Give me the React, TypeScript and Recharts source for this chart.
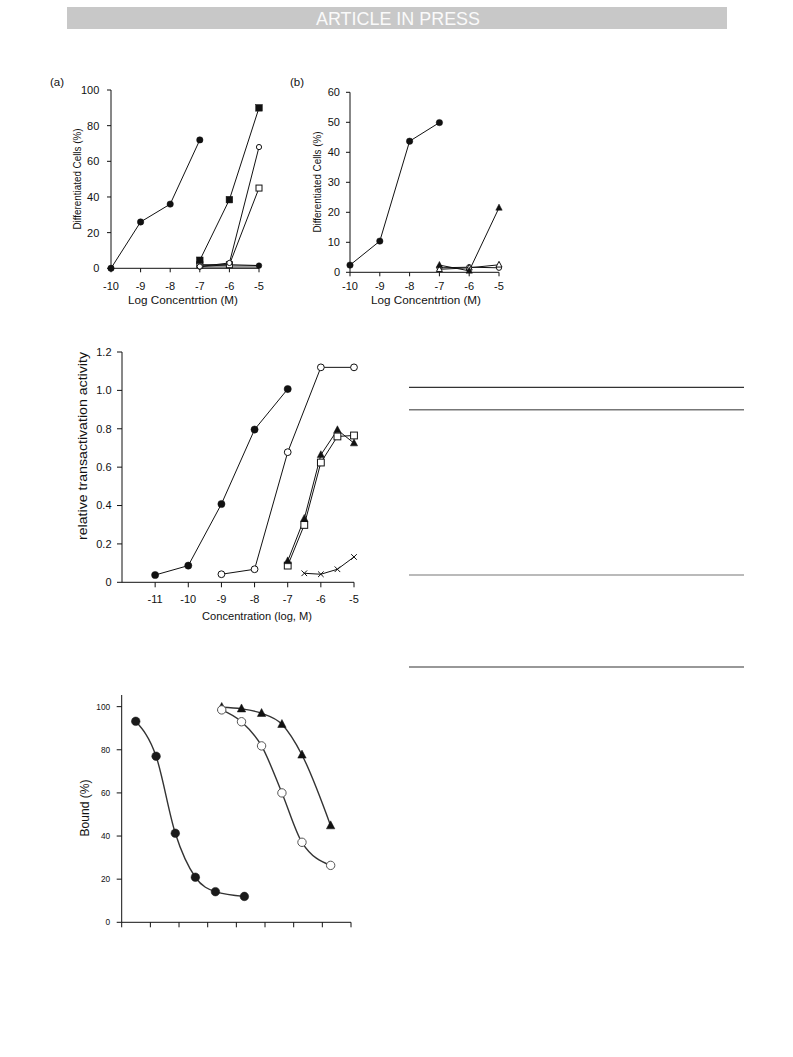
import React from 'react';
import { LineChart, Line, XAxis, YAxis } from 'recharts';

const FONT = '"Liberation Sans", Arial, Helvetica, sans-serif';
const INK = '#111';

// ---------- Panel (a) ----------
const aTicksX = [-10, -9, -8, -7, -6, -5];
const aTicksY = [0, 20, 40, 60, 80, 100];
const aX1 = [-10, -9, -8, -7];
const aFilledCircle = [0, 26, 36, 72];
const aX2 = [-7, -6, -5];
const aFilledSquare = [4.5, 38.5, 90];
const aOpenCircle = [1, 3, 68];
const aOpenSquare = [2, 2, 45];
const aFilledTriangle = [1, 2, 1.5];
const aGrey = [1, 1, 1];

// ---------- Panel (b) ----------
const bTicksX = [-10, -9, -8, -7, -6, -5];
const bTicksY = [0, 10, 20, 30, 40, 50, 60];
const bX1 = [-10, -9, -8, -7];
const bFilledCircle = [2.4, 10.4, 43.7, 49.9];
const bX2 = [-7, -6, -5];
const bFilledTriangle = [2.4, 0.5, 21.5];
const bOpenTriangle = [1, 1.5, 2.5];
const bOpenCircle = [1.5, 1.7, 1.5];

// ---------- Transactivation ----------
const cTicksX = [-11, -10, -9, -8, -7, -6, -5];
const cTicksY = [0, 0.2, 0.4, 0.6, 0.8, 1.0, 1.2];
const cX1 = [-11, -10, -9, -8, -7];
const cFilledCircle = [0.038, 0.087, 0.408, 0.796, 1.007];
const cX2 = [-9, -8, -7, -6, -5];
const cOpenCircle = [0.042, 0.068, 0.678, 1.12, 1.12];
const cX3 = [-7, -6.5, -6, -5.5, -5];
const cFilledTriangle = [0.111, 0.332, 0.664, 0.794, 0.725];
const cOpenSquare = [0.087, 0.299, 0.624, 0.76, 0.765];
const cX4 = [-6.5, -6, -5.5, -5];
const cCross = [0.047, 0.042, 0.068, 0.132];

// ---------- Binding ----------
const dTicksX = [0, 1, 2, 3, 4, 5, 6, 7, 8];
const dTicksY = [0, 20, 40, 60, 80, 100];
const dX1 = [0.49, 1.2, 1.87, 2.57, 3.27, 4.28];
const dFilledCircle = [93.2, 77, 41.3, 20.9, 14.2, 12];
const dX2 = [3.49, 4.18, 4.88, 5.59, 6.29, 7.29];
const dOpenCircle = [98.5, 93, 81.8, 60, 37.1, 26.4];
const dFilledTriangle = [99.7, 99, 96.9, 91.8, 77.6, 44.8];

const zip = (xs: number[], ys: number[]) => xs.map((x, i) => ({ x, y: ys[i] }));

type Kind = 'fc' | 'oc' | 'fs' | 'os' | 'ft' | 'ot' | 'x';

function Marker({ cx, cy, kind, s, color }: { cx: number; cy: number; kind: Kind; s: number; color: string }) {
  if (cx == null || cy == null || isNaN(cx) || isNaN(cy)) return null;
  switch (kind) {
    case 'fc':
      return <circle cx={cx} cy={cy} r={s} fill={color} stroke={color} strokeWidth={0.5} />;
    case 'oc':
      return <circle cx={cx} cy={cy} r={s} fill="#fff" stroke={color} strokeWidth={1} />;
    case 'fs':
      return <rect x={cx - s} y={cy - s} width={2 * s} height={2 * s} fill={color} stroke={color} strokeWidth={0.5} />;
    case 'os':
      return <rect x={cx - s} y={cy - s} width={2 * s} height={2 * s} fill="#fff" stroke={color} strokeWidth={1} />;
    case 'ft':
    case 'ot': {
      const pts = `${cx},${cy - s * 1.15} ${cx - s},${cy + s * 0.75} ${cx + s},${cy + s * 0.75}`;
      return <polygon points={pts} fill={kind === 'ft' ? color : '#fff'} stroke={color} strokeWidth={kind === 'ft' ? 0.5 : 1} />;
    }
    case 'x':
      return (
        <g stroke={color} strokeWidth={1}>
          <line x1={cx - s} y1={cy - s} x2={cx + s} y2={cy + s} />
          <line x1={cx - s} y1={cy + s} x2={cx + s} y2={cy - s} />
        </g>
      );
    default:
      return null;
  }
}

const dot = (kind: Kind, s: number, color: string = INK) => (p: any) => (
  <Marker key={`${kind}-${p.index}-${p.cx}`} cx={p.cx} cy={p.cy} kind={kind} s={s} color={color} />
);

const tickStyle = (size: number) => ({ fontSize: size, fill: INK, fontFamily: FONT });

function PanelA() {
  return (
    <LineChart width={240} height={230} margin={{ top: 10, right: 21, left: 0, bottom: 0 }}>
      <XAxis type="number" dataKey="x" domain={[-10, -5]} ticks={aTicksX} interval={0}
        stroke={INK} tickSize={4} tickMargin={9.5} height={41.7} tick={tickStyle(11)} />
      <YAxis type="number" domain={[0, 100]} ticks={aTicksY} interval={0}
        stroke={INK} tickSize={4} tickMargin={7.7} width={71} tick={tickStyle(11)} />
      <Line data={zip(aX2, aGrey)} dataKey="y" stroke="#999" strokeWidth={3.5} dot={false} activeDot={false} isAnimationActive={false} />
      <Line data={zip(aX1, aFilledCircle)} dataKey="y" stroke={INK} strokeWidth={1} dot={dot('fc', 3.2)} activeDot={false} isAnimationActive={false} />
      <Line data={zip(aX2, aFilledTriangle)} dataKey="y" stroke={INK} strokeWidth={1} dot={dot('fc', 2.8)} activeDot={false} isAnimationActive={false} />
      <Line data={zip(aX2, aOpenSquare)} dataKey="y" stroke={INK} strokeWidth={1} dot={dot('os', 3)} activeDot={false} isAnimationActive={false} />
      <Line data={zip(aX2, aOpenCircle)} dataKey="y" stroke={INK} strokeWidth={1} dot={dot('oc', 2.6)} activeDot={false} isAnimationActive={false} />
      <Line data={zip(aX2, aFilledSquare)} dataKey="y" stroke={INK} strokeWidth={1} dot={dot('fs', 3.3)} activeDot={false} isAnimationActive={false} />
    </LineChart>
  );
}

function PanelB() {
  return (
    <LineChart width={240} height={230} margin={{ top: 12.3, right: 21, left: 0, bottom: 0 }}>
      <XAxis type="number" dataKey="x" domain={[-10, -5]} ticks={bTicksX} interval={0}
        stroke={INK} tickSize={4} tickMargin={5.5} height={37.7} tick={tickStyle(11)} />
      <YAxis type="number" domain={[0, 60]} ticks={bTicksY} interval={0}
        stroke={INK} tickSize={4} tickMargin={6} width={70} tick={tickStyle(11)} />
      <Line data={zip(bX2, bOpenCircle)} dataKey="y" stroke={INK} strokeWidth={1} dot={dot('oc', 2.6)} activeDot={false} isAnimationActive={false} />
      <Line data={zip(bX2, bOpenTriangle)} dataKey="y" stroke={INK} strokeWidth={1} dot={dot('ot', 3)} activeDot={false} isAnimationActive={false} />
      <Line data={zip(bX2, bFilledTriangle)} dataKey="y" stroke={INK} strokeWidth={1} dot={dot('ft', 3.2)} activeDot={false} isAnimationActive={false} />
      <Line data={zip(bX1, bFilledCircle)} dataKey="y" stroke={INK} strokeWidth={1} dot={dot('fc', 3.2)} activeDot={false} isAnimationActive={false} />
    </LineChart>
  );
}

function PanelC() {
  return (
    <LineChart width={340} height={290} margin={{ top: 12, right: 26, left: 0, bottom: 0 }}>
      <XAxis type="number" dataKey="x" domain={[-12, -5]} ticks={cTicksX} interval={0}
        stroke={INK} tickSize={5} tickMargin={8} height={47.7} tick={tickStyle(11)} />
      <YAxis type="number" domain={[0, 1.2]} ticks={cTicksY} interval={0}
        tickFormatter={(v: number) => (v === 0 ? '0' : v.toFixed(1))}
        stroke={INK} tickSize={5} tickMargin={5.5} width={82} tick={tickStyle(11)} />
      <Line data={zip(cX4, cCross)} dataKey="y" stroke={INK} strokeWidth={1} dot={dot('x', 2.8)} activeDot={false} isAnimationActive={false} />
      <Line data={zip(cX3, cOpenSquare)} dataKey="y" stroke={INK} strokeWidth={1} dot={dot('os', 3.4)} activeDot={false} isAnimationActive={false} />
      <Line data={zip(cX3, cFilledTriangle)} dataKey="y" stroke={INK} strokeWidth={1} dot={dot('ft', 3.6)} activeDot={false} isAnimationActive={false} />
      <Line data={zip(cX2, cOpenCircle)} dataKey="y" stroke={INK} strokeWidth={1} dot={dot('oc', 3.4)} activeDot={false} isAnimationActive={false} />
      <Line data={zip(cX1, cFilledCircle)} dataKey="y" stroke={INK} strokeWidth={1} dot={dot('fc', 3.6)} activeDot={false} isAnimationActive={false} />
    </LineChart>
  );
}

function PanelD() {
  const curve = '#333';
  return (
    <LineChart width={340} height={260} margin={{ top: 10, right: 29, left: 0, bottom: 0 }}>
      <XAxis type="number" dataKey="x" domain={[0, 8]} ticks={dTicksX} interval={0}
        tickFormatter={() => ''} stroke={INK} tickSize={5} height={22.7} tick={tickStyle(8)} />
      <YAxis type="number" domain={[0, 105.4]} ticks={dTicksY} interval={0}
        stroke={INK} tickSize={5} tickMargin={6.5} width={81.7} tick={tickStyle(8.3)} />
      <Line type="monotone" data={zip(dX2, dFilledTriangle)} dataKey="y" stroke={curve} strokeWidth={1.4} dot={dot('ft', 4.2, '#111')} activeDot={false} isAnimationActive={false} />
      <Line type="monotone" data={zip(dX2, dOpenCircle)} dataKey="y" stroke={curve} strokeWidth={1.4} dot={dot('oc', 4.2, '#555')} activeDot={false} isAnimationActive={false} />
      <Line type="monotone" data={zip(dX1, dFilledCircle)} dataKey="y" stroke={curve} strokeWidth={1.4} dot={dot('fc', 4.3, '#1a1a1a')} activeDot={false} isAnimationActive={false} />
    </LineChart>
  );
}

function VText({ cx, cy, text, size, length }: { cx: number; cy: number; text: string; size: number; length?: number }) {
  return (
    <text transform={`translate(${cx},${cy}) rotate(-90)`} x={0} y={size * 0.35} textAnchor="middle"
      fontSize={size} fontFamily={FONT} fill={INK}
      {...(length ? { textLength: length, lengthAdjust: 'spacingAndGlyphs' } : {})}>
      {text}
    </text>
  );
}

function Overlay() {
  return (
    <svg width={793} height={1057} style={{ position: 'absolute', left: 0, top: 0, pointerEvents: 'none' }}>
      <rect x={67} y={7} width={660} height={22} fill="#c8c8c8" />
      <text x={398} y={24.5} textAnchor="middle" fontSize={18} fontFamily={FONT} fill="#fafafa"
        textLength={164} lengthAdjust="spacingAndGlyphs">ARTICLE IN PRESS</text>

      <text x={50} y={86} fontSize={11.5} fontFamily={FONT} fill={INK}>(a)</text>
      <text x={290} y={86} fontSize={11.5} fontFamily={FONT} fill={INK}>(b)</text>

      <text x={183} y={303.5} textAnchor="middle" fontSize={11.8} fontFamily={FONT} fill={INK}
        textLength={110} lengthAdjust="spacingAndGlyphs">Log Concentrtion (M)</text>
      <VText cx={77} cy={179} text="Differentiated Cells (%)" size={10.5} length={101} />

      <text x={426} y={303.5} textAnchor="middle" fontSize={11.8} fontFamily={FONT} fill={INK}
        textLength={110} lengthAdjust="spacingAndGlyphs">Log Concentrtion (M)</text>
      <VText cx={317} cy={182} text="Differentiated Cells (%)" size={10.5} length={101} />

      <text x={257} y={620} textAnchor="middle" fontSize={11.2} fontFamily={FONT} fill={INK}
        textLength={110} lengthAdjust="spacingAndGlyphs">Concentration (log, M)</text>
      <VText cx={83} cy={446} text="relative transactivation activity" size={12.5} length={188} />

      <VText cx={85} cy={808} text="Bound (%)" size={12} length={57} />

      <line x1={409} x2={744} y1={387.3} y2={387.3} stroke="#333" strokeWidth={1.2} />
      <line x1={409} x2={744} y1={409.7} y2={409.7} stroke="#777" strokeWidth={1.6} />
      <line x1={409} x2={744} y1={575} y2={575} stroke="#777" strokeWidth={1.2} />
      <line x1={409} x2={744} y1={667} y2={667} stroke="#333" strokeWidth={1.2} />
    </svg>
  );
}

export default function App() {
  return (
    <div style={{ position: 'absolute', left: 0, top: 0, width: 793, height: 1057, background: '#fff', fontFamily: FONT }}>
      <div style={{ position: 'absolute', left: 40, top: 80 }}><PanelA /></div>
      <div style={{ position: 'absolute', left: 280, top: 80 }}><PanelB /></div>
      <div style={{ position: 'absolute', left: 40, top: 340 }}><PanelC /></div>
      <div style={{ position: 'absolute', left: 40, top: 685 }}><PanelD /></div>
      <Overlay />
    </div>
  );
}
